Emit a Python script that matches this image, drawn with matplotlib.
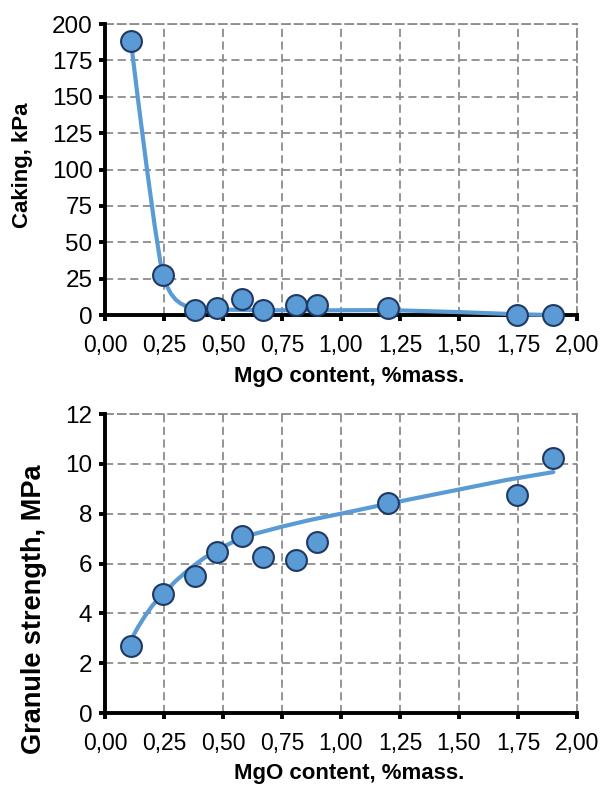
import matplotlib
matplotlib.use('Agg')
import matplotlib.pyplot as plt
from matplotlib.ticker import MultipleLocator, FuncFormatter

# Measured points (MgO content, %mass.)
mgo = [0.11, 0.245, 0.38, 0.475, 0.58, 0.67, 0.81, 0.90, 1.20, 1.745, 1.90]
caking = [188, 27.5, 3.5, 5, 11, 3.5, 7, 7, 5, 0, 0]
strength = [2.7, 4.78, 5.5, 6.47, 7.1, 6.27, 6.15, 6.85, 8.42, 8.75, 10.24]

# Trend lines
caking_fit_x = [0.11, 0.14, 0.178, 0.21, 0.235, 0.25, 0.265, 0.28, 0.30, 0.32, 0.34, 0.37, 0.42, 0.50, 0.70, 0.90, 1.20, 1.50, 1.75, 1.90]
caking_fit_y = [188, 148, 100, 62, 36, 25, 19, 14.5, 10.5, 8, 6.3, 5, 4.2, 3.7, 3.3, 3.2, 3.4, 2, 0.5, 0]
strength_fit_x = [0.11, 0.14, 0.17, 0.20, 0.233, 0.30, 0.36, 0.42, 0.487, 0.55, 0.614, 0.75, 0.87, 1.00, 1.20, 1.49, 1.70, 1.90]
strength_fit_y = [2.93, 3.45, 3.9, 4.3, 4.66, 5.3, 5.8, 6.22, 6.6, 6.9, 7.14, 7.48, 7.75, 8.0, 8.4, 8.95, 9.35, 9.67]

blue = '#5B9BD5'
edge = '#1F3864'
grid_c = '#8C8C8C'
plt.rcParams['font.family'] = ['Liberation Sans', 'DejaVu Sans']

fig = plt.figure(figsize=(6.01, 7.85), dpi=100)
ax1 = fig.add_axes([0.1747, 0.5987, 0.7853, 0.3707])
ax2 = fig.add_axes([0.1747, 0.0917, 0.7853, 0.3809])


def style(ax, ymax, ystep, ylabel, ylsize, ylpos, xlpos):
    ax.set_xlim(0, 2.0)
    ax.set_ylim(0, ymax)
    ax.xaxis.set_major_locator(MultipleLocator(0.25))
    ax.yaxis.set_major_locator(MultipleLocator(ystep))
    ax.xaxis.set_major_formatter(FuncFormatter(lambda v, p: f'{v:.2f}'.replace('.', ',')))
    ax.grid(True, color=grid_c, linestyle=(0, (4.5, 2.5)), linewidth=1.3)
    ax.set_axisbelow(True)
    for s in ['top', 'right']:
        ax.spines[s].set_color(grid_c)
        ax.spines[s].set_linestyle((0, (4.5, 2.5)))
        ax.spines[s].set_linewidth(1.3)
    for s in ['left', 'bottom']:
        ax.spines[s].set_color('black')
        ax.spines[s].set_linewidth(2.8)
        ax.spines[s].set_zorder(3)
    ax.tick_params(direction='out', length=4, width=2.8, color='black')
    ax.tick_params(axis='y', labelsize=17.5, pad=5)
    ax.tick_params(axis='x', labelsize=16.5, pad=10)
    ax.set_xlabel('MgO content, %mass.', fontsize=16, fontweight='bold')
    ax.xaxis.set_label_coords(*xlpos)
    ax.set_ylabel(ylabel, fontsize=ylsize, fontweight='bold')
    ax.yaxis.set_label_coords(*ylpos)


# Caking
ax1.plot(caking_fit_x, caking_fit_y, color=blue, lw=3, zorder=4, clip_on=False, solid_capstyle='round')
ax1.plot(mgo, caking, 'o', ms=15, mfc=blue, mec=edge, mew=1.5, zorder=5, clip_on=False)
style(ax1, 200, 25, 'Caking, kPa', 16, (-0.153, 0.515), (0.517, -0.175))

# Granule strength
ax2.plot(strength_fit_x, strength_fit_y, color=blue, lw=3, zorder=4, solid_capstyle='round')
ax2.plot(mgo, strength, 'o', ms=15, mfc=blue, mec=edge, mew=1.5, zorder=5, clip_on=False)
style(ax2, 12, 2, 'Granule strength, MPa', 19.5, (-0.123, 0.348), (0.517, -0.167))

fig.savefig('out.png', dpi=100)
